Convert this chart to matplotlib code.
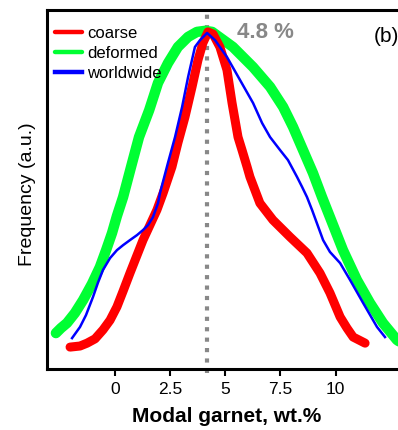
import matplotlib
matplotlib.use("Agg")
import matplotlib.pyplot as plt

plt.rcParams['font.family'] = ['Liberation Sans', 'DejaVu Sans']

# Data (x in wt.% garnet, y frequency in arbitrary units)
coarse_x = [-2.02, -1.57, -1.25, -0.89, -0.53, -0.21, 0.10, 0.38, 0.69, 1.28, 1.91, 2.19, 2.59, 2.86,
            3.18, 3.50, 3.77, 3.99, 4.22, 4.45, 4.76, 5.08, 5.31, 5.58, 5.76, 5.99, 6.12, 6.57, 7.16,
            7.93, 8.70, 9.29, 9.74, 10.20, 10.51, 10.79, 11.33]
coarse_y = [0.061, 0.064, 0.072, 0.084, 0.109, 0.136, 0.173, 0.217, 0.267, 0.359, 0.443, 0.490, 0.563, 0.630,
            0.702, 0.786, 0.861, 0.908, 0.939, 0.933, 0.897, 0.833, 0.741, 0.646, 0.610, 0.563, 0.535, 0.462, 0.415,
            0.368, 0.323, 0.267, 0.212, 0.145, 0.114, 0.089, 0.072]

deformed_x = [-2.66, -2.43, -2.16, -1.80, -1.43, -1.03, -0.67, -0.39, -0.12, 0.10, 0.38, 0.74, 1.10, 1.56,
              1.96, 2.41, 2.86, 3.32, 3.72, 4.09, 4.41, 4.86, 5.35, 6.26, 7.03, 7.62, 8.07, 8.52, 8.97,
              9.38, 9.74, 10.33, 10.96, 11.55, 12.14, 12.77, 13.36]
deformed_y = [0.100, 0.114, 0.128, 0.156, 0.192, 0.237, 0.284, 0.331, 0.379, 0.426, 0.479, 0.563, 0.646, 0.721,
              0.797, 0.852, 0.897, 0.925, 0.939, 0.942, 0.939, 0.919, 0.897, 0.841, 0.786, 0.730, 0.674, 0.610, 0.546,
              0.479, 0.423, 0.331, 0.248, 0.184, 0.128, 0.081, 0.056]

worldwide_x = [-1.93, -1.57, -1.30, -0.98, -0.76, -0.53, -0.21, 0.10, 0.38, 0.69, 1.01, 1.28, 1.51, 1.73,
               1.96, 2.05, 2.41, 2.73, 3.05, 3.32, 3.63, 3.86, 4.18, 4.54, 5.08, 5.67, 6.26, 6.67, 7.03,
               7.48, 7.84, 8.25, 8.48, 8.70, 8.93, 9.43, 9.74, 10.20, 10.65, 11.24, 11.87, 12.23]
worldwide_y = [0.086, 0.117, 0.150, 0.201, 0.240, 0.276, 0.309, 0.331, 0.345, 0.359, 0.373, 0.387, 0.401, 0.423,
               0.462, 0.490, 0.574, 0.646, 0.730, 0.813, 0.897, 0.916, 0.936, 0.916, 0.869, 0.805, 0.741, 0.685, 0.646,
               0.610, 0.582, 0.535, 0.507, 0.479, 0.443, 0.359, 0.326, 0.295, 0.248, 0.184, 0.117, 0.089]

mode_value = 4.16
mode_label = "4.8 %"
panel_label = "(b)"
xticks = [0, 2.5, 5, 7.5, 10]
xtick_labels = ["0", "2.5", "5", "7.5", "10"]

W, H = 398, 430
fig = plt.figure(figsize=(W / 100, H / 100), dpi=100)

ax_left, ax_right, ax_top, ax_bottom = 47, 420, 10, 369
ax = fig.add_axes([ax_left / W, 1 - ax_bottom / H, (ax_right - ax_left) / W, (ax_bottom - ax_top) / H])
ppu = 22.1
x0px = 114.7
ax.set_xlim((ax_left - x0px) / ppu, (ax_right - x0px) / ppu)
ax.set_ylim(0, 1)

ax.plot(deformed_x, deformed_y, color='#00ff33', lw=7.5, solid_capstyle='round',
        solid_joinstyle='round', label='deformed', zorder=2)
ax.plot(coarse_x, coarse_y, color='#ff0000', lw=6.5, solid_capstyle='round',
        solid_joinstyle='round', label='coarse', zorder=3)
ax.plot(worldwide_x, worldwide_y, color='#0000ff', lw=1.8, solid_joinstyle='round',
        label='worldwide', zorder=4)

ax.plot([mode_value, mode_value], [-0.012, 1.0], color='#888888', lw=3.0,
        linestyle=(0, (1, 1.5)), dash_capstyle='butt', clip_on=False, zorder=1)

handles, labels = ax.get_legend_handles_labels()
order = [1, 0, 2]
leg = ax.legend([handles[i] for i in order], [labels[i] for i in order],
                loc='upper left', bbox_to_anchor=(8 / 373, 1 - 16 / 359),
                frameon=False, fontsize=12, handlelength=1.6, handletextpad=0.35,
                labelspacing=0.3, borderpad=0, borderaxespad=0)
for h in leg.get_lines():
    h.set_linewidth(3.2)

for s in ['left', 'bottom', 'top']:
    ax.spines[s].set_linewidth(2.2)
ax.spines['right'].set_visible(False)
ax.set_yticks([])
ax.set_xticks(xticks)
ax.set_xticklabels(xtick_labels, fontsize=12.5)
ax.tick_params(axis='x', direction='out', length=5, width=1.5, pad=4)

fig.text(237 / W, 1 - 33 / H, mode_label, fontsize=16, fontweight='bold', color='#888888',
         ha='left', va='center')
fig.text(374 / W, 1 - 36 / H, panel_label, fontsize=15, color='black', ha='left', va='center')
fig.text(27 / W, 1 - 194 / H, "Frequency (a.u.)", fontsize=14, rotation=90, ha='center', va='center')
fig.text(227 / W, 1 - 416 / H, "Modal garnet, wt.%", fontsize=15, fontweight='bold',
         ha='center', va='center')

fig.savefig("out.png", dpi=100)
